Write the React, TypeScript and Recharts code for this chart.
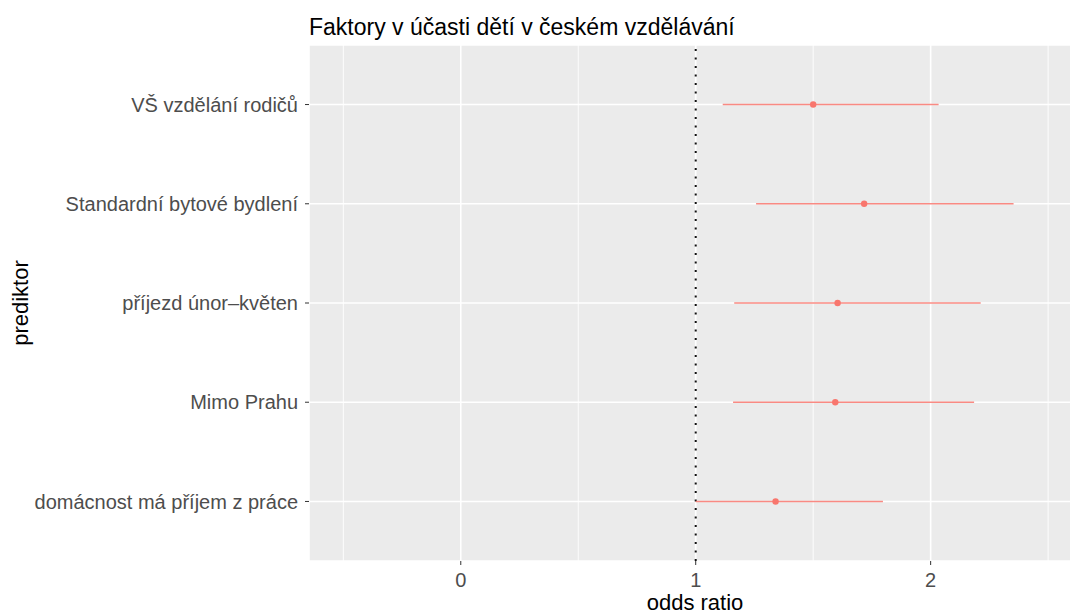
import { ScatterChart, Scatter, XAxis, YAxis, CartesianGrid, ErrorBar, ReferenceLine } from 'recharts';

const FONT = '"Liberation Sans", Arial, sans-serif';
const SALMON = '#F8766D';

// predictors, top to bottom
const predictors = [
  'VŠ vzdělání rodičů',
  'Standardní bytové bydlení',
  'příjezd únor–květen',
  'Mimo Prahu',
  'domácnost má příjem z práce',
];
const oddsRatio = [1.5, 1.717, 1.604, 1.594, 1.34];
const ciLow = [1.115, 1.257, 1.164, 1.159, 1.0];
const ciHigh = [2.034, 2.353, 2.213, 2.185, 1.797];

const xTicks = [0, 1, 2];
const xMinor = [-0.5, 0.5, 1.5, 2.5];
const rowTicks = [1, 2, 3, 4, 5];

const rows = predictors.map((name, i) => ({
  name,
  pos: i + 1,
  or: oddsRatio[i],
  err: [oddsRatio[i] - ciLow[i], ciHigh[i] - oddsRatio[i]],
}));

const tickStyle = { fill: '#4D4D4D', fontSize: 20, fontFamily: FONT };

export default function App() {
  return (
    <div style={{ position: 'absolute', left: 0, top: 0, width: 1070, height: 613, overflow: 'hidden', background: '#fff', fontFamily: FONT }}>
      <div style={{ position: 'absolute', left: 309, top: 16, fontSize: 23, lineHeight: '23px', color: '#000', whiteSpace: 'nowrap' }}>
        Faktory v účasti dětí v českém vzdělávání
      </div>
      <ScatterChart width={1081} height={613} margin={{ top: 45, right: 0, bottom: 0, left: 0 }}>
        <CartesianGrid fill="#EBEBEB" stroke="#fff" strokeWidth={1.6} />
        {xMinor.map((v) => (
          <ReferenceLine key={v} x={v} stroke="#fff" strokeWidth={0.9} />
        ))}
        <ReferenceLine x={1} stroke="#111" strokeWidth={2} strokeDasharray="2 6.5" />
        <XAxis
          type="number"
          dataKey="or"
          domain={[-0.646, 2.64]}
          allowDataOverflow
          ticks={xTicks}
          interval={0}
          height={52}
          axisLine={false}
          tickLine={{ stroke: '#333' }}
          tickSize={4}
          tickMargin={8}
          tick={tickStyle}
          label={{ value: 'odds ratio', position: 'insideBottom', offset: 3.5, fill: '#000', fontSize: 22, fontFamily: FONT }}
        />
        <YAxis
          type="number"
          dataKey="pos"
          domain={[0.4, 5.6]}
          reversed
          ticks={rowTicks}
          interval={0}
          width={309}
          axisLine={false}
          tickLine={{ stroke: '#333' }}
          tickSize={4}
          tickMargin={7}
          tick={tickStyle}
          tickFormatter={(v: number) => predictors[v - 1] ?? ''}
          label={{ value: 'prediktor', angle: -90, position: 'insideLeft', offset: 20, fill: '#000', fontSize: 22, fontFamily: FONT, style: { textAnchor: 'middle' } }}
        />
        <Scatter
          data={rows}
          isAnimationActive={false}
          fill={SALMON}
          shape={(p: any) => <circle cx={p.cx} cy={p.cy} r={3.2} fill={SALMON} />}
        >
          <ErrorBar dataKey="err" direction="x" width={0} stroke={SALMON} strokeWidth={1.4} strokeOpacity={0.85} isAnimationActive={false} />
        </Scatter>
      </ScatterChart>
    </div>
  );
}
